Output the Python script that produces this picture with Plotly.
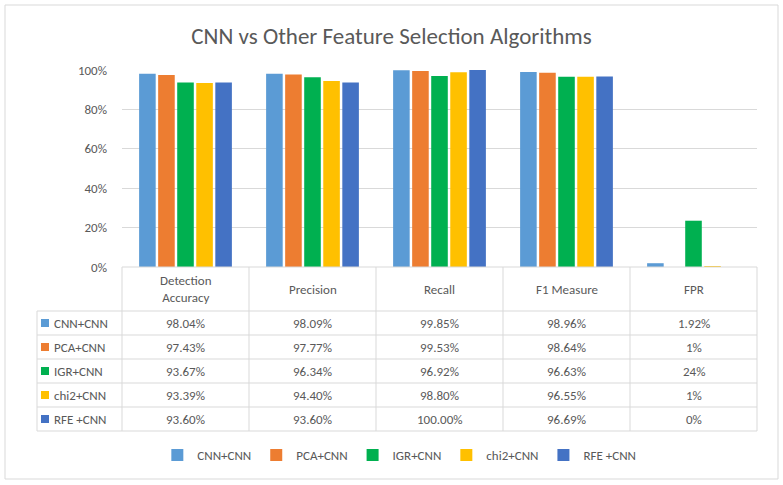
import plotly.graph_objects as go

categories = ["Detection Accuracy", "Precision", "Recall", "F1 Measure", "FPR"]
header_labels = ["Detection<br>Accuracy", "Precision", "Recall", "F1 Measure", "FPR"]
series_names = ["CNN+CNN", "PCA+CNN", "IGR+CNN", "chi2+CNN", "RFE +CNN"]
colors = ["#5B9BD5", "#ED7D31", "#00B050", "#FFC000", "#4472C4"]

cnn_cnn = [0.9804, 0.9809, 0.9985, 0.9896, 0.0192]
pca_cnn = [0.9743, 0.9777, 0.9953, 0.9864, 0.0]
igr_cnn = [0.9367, 0.9634, 0.9692, 0.9663, 0.235]
chi2_cnn = [0.9339, 0.9440, 0.9880, 0.9655, 0.005]
rfe_cnn = [0.9360, 0.9360, 1.0000, 0.9669, 0.0]
series_values = [cnn_cnn, pca_cnn, igr_cnn, chi2_cnn, rfe_cnn]

table_cnn_cnn = ["98.04%", "98.09%", "99.85%", "98.96%", "1.92%"]
table_pca_cnn = ["97.43%", "97.77%", "99.53%", "98.64%", "1%"]
table_igr_cnn = ["93.67%", "96.34%", "96.92%", "96.63%", "24%"]
table_chi2_cnn = ["93.39%", "94.40%", "98.80%", "96.55%", "1%"]
table_rfe_cnn = ["93.60%", "93.60%", "100.00%", "96.69%", "0%"]
table_text = [table_cnn_cnn, table_pca_cnn, table_igr_cnn, table_chi2_cnn, table_rfe_cnn]

y_ticks = [0, 0.2, 0.4, 0.6, 0.8, 1.0]
y_ticktext = ["0%", "20%", "40%", "60%", "80%", "100%"]

FONT = "Carlito, Calibri, 'Noto Sans', sans-serif"
TXT = "#595959"
GRID = "#D9D9D9"
W, H = 783, 485
X0, X1, YB, YT = 122, 757, 267, 70


def xp(p):
    return (p - X0) / (X1 - X0)


def yp(p):
    return (YB - p) / (YB - YT)


fig = go.Figure()
for name, vals, col in zip(series_names, series_values, colors):
    fig.add_trace(go.Bar(x=categories, y=vals, name=name, marker=dict(color=col, line=dict(width=0))))

shapes = []
annotations = []
# outer border
shapes.append(dict(type="rect", xref="paper", yref="paper", x0=xp(5), x1=xp(778), y0=yp(5), y1=yp(479),
                   line=dict(color=GRID, width=1), fillcolor="rgba(0,0,0,0)", layer="below"))
# table lines
row_lines = [311, 335, 359, 383, 407, 431]
shapes.append(dict(type="line", xref="paper", yref="paper", x0=xp(X0), x1=xp(X1), y0=yp(YB), y1=yp(YB),
                   line=dict(color=GRID, width=1)))
for r in row_lines:
    shapes.append(dict(type="line", xref="paper", yref="paper", x0=xp(37), x1=xp(X1), y0=yp(r), y1=yp(r),
                       line=dict(color=GRID, width=1)))
n = len(categories)
for i in range(n + 1):
    xx = i / n
    shapes.append(dict(type="line", xref="paper", yref="paper", x0=xx, x1=xx, y0=yp(YB), y1=yp(431),
                       line=dict(color=GRID, width=1)))
shapes.append(dict(type="line", xref="paper", yref="paper", x0=xp(37), x1=xp(37), y0=yp(311), y1=yp(431),
                   line=dict(color=GRID, width=1)))

# header
for cat, lab in zip(categories, header_labels):
    annotations.append(dict(x=cat, xref="x", y=yp(289), yref="paper", text=lab, showarrow=False,
                            font=dict(family=FONT, size=13, color=TXT), xanchor="center", yanchor="middle"))
# rows
row_centers = [323, 347, 371, 395, 419]
for rc, name, col, texts in zip(row_centers, series_names, colors, table_text):
    shapes.append(dict(type="rect", xref="paper", yref="paper", x0=xp(41), x1=xp(49),
                       y0=yp(rc + 4), y1=yp(rc - 4), line=dict(width=0), fillcolor=col))
    annotations.append(dict(x=xp(52), xref="paper", y=yp(rc), yref="paper", text=name, showarrow=False,
                            font=dict(family=FONT, size=13, color=TXT), xanchor="left", yanchor="middle"))
    for cat, t in zip(categories, texts):
        annotations.append(dict(x=cat, xref="x", y=yp(rc), yref="paper", text=t, showarrow=False,
                                font=dict(family=FONT, size=13, color=TXT), xanchor="center", yanchor="middle"))

fig.update_layout(
    width=W, height=H,
    margin=dict(l=X0, r=W - X1, t=YT, b=H - YB, pad=0),
    paper_bgcolor="white", plot_bgcolor="white",
    title=dict(text="CNN vs Other Feature Selection Algorithms", x=0.5, xanchor="center", xref="container",
               y=1 - 36 / H, yanchor="middle", yref="container",
               font=dict(family=FONT, size=23, color=TXT)),
    barmode="group", bargap=0.25, bargroupgap=0.13,
    showlegend=True,
    legend=dict(orientation="h", xref="container", x=0.51, xanchor="center", yref="container",
                y=1 - 455 / H, yanchor="middle", font=dict(family=FONT, size=13, color=TXT),
                itemwidth=30, traceorder="normal", itemclick=False, itemdoubleclick=False),
    shapes=shapes, annotations=annotations,
    xaxis=dict(showticklabels=False, showgrid=False, showline=False, zeroline=False, ticks=""),
    yaxis=dict(range=[0, 1.0], tickvals=y_ticks, ticktext=y_ticktext, showgrid=True, gridcolor=GRID,
               gridwidth=1, zeroline=False, showline=False, ticks="", ticklabelstandoff=14,
               tickfont=dict(family=FONT, size=13, color=TXT)),
)

fig.write_html("out.html", config={"displayModeBar": False},
               post_script="document.body.style.margin='0';")
